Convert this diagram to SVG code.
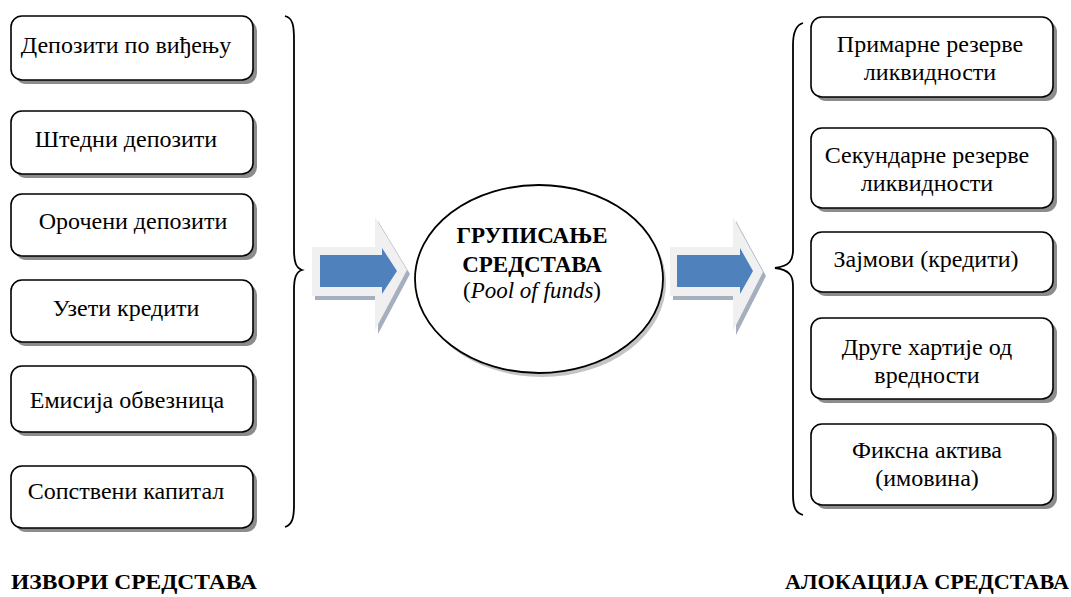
<svg xmlns="http://www.w3.org/2000/svg" width="1071" height="597" viewBox="0 0 1071 597">
  <style>
    .box { fill: #ffffff; stroke: #000000; stroke-width: 1.6; }
    .shd { fill: #8c8c8c; }
    .brace { fill: none; stroke: #000000; stroke-width: 1.8; }
    .outer { fill: #f0f0f0; }
    .outer-shd { fill: #a5afbf; }
    .inner { fill: #4f81bd; }
    text { font-family: "Liberation Serif", Times, "DejaVu Serif", serif; }
  </style>
  <rect width="1071" height="597" fill="#ffffff"/>

  <!-- sources -->
  <g font-size="24" text-anchor="middle" fill="#000000">
    <g id="src1"><rect class="shd" x="15" y="20" width="242" height="64" rx="11"/><rect class="box" x="11" y="16" width="242" height="64" rx="11"/><text x="126" y="53">Депозити по виђењу</text></g>
    <g id="src2"><rect class="shd" x="15" y="115" width="242" height="63" rx="11"/><rect class="box" x="11" y="111" width="242" height="63" rx="11"/><text x="126" y="147">Штедни депозити</text></g>
    <g id="src3"><rect class="shd" x="15" y="198" width="242" height="62" rx="11"/><rect class="box" x="11" y="194" width="242" height="62" rx="11"/><text x="133" y="229">Орочени депозити</text></g>
    <g id="src4"><rect class="shd" x="15" y="284" width="242" height="62" rx="11"/><rect class="box" x="11" y="280" width="242" height="62" rx="11"/><text x="126" y="316">Узети кредити</text></g>
    <g id="src5"><rect class="shd" x="15" y="370" width="242" height="66" rx="11"/><rect class="box" x="11" y="366" width="242" height="66" rx="11"/><text x="127" y="408">Емисија обвезница</text></g>
    <g id="src6"><rect class="shd" x="15" y="470" width="242" height="62" rx="11"/><rect class="box" x="11" y="466" width="242" height="62" rx="11"/><text x="126" y="499">Сопствени капитал</text></g>

    <!-- uses -->
    <g id="use1"><rect class="shd" x="815" y="21" width="242" height="80" rx="11"/><rect class="box" x="811" y="17" width="242" height="80" rx="11"/><text x="930" y="52">Примарне резерве</text><text x="930" y="80">ликвидности</text></g>
    <g id="use2"><rect class="shd" x="815" y="132" width="242" height="80" rx="11"/><rect class="box" x="811" y="128" width="242" height="80" rx="11"/><text x="927" y="163">Секундарне резерве</text><text x="927" y="191">ликвидности</text></g>
    <g id="use3"><rect class="shd" x="815" y="236" width="242" height="60" rx="11"/><rect class="box" x="811" y="232" width="242" height="60" rx="11"/><text x="926" y="267">Зајмови (кредити)</text></g>
    <g id="use4"><rect class="shd" x="815" y="322" width="242" height="81" rx="11"/><rect class="box" x="811" y="318" width="242" height="81" rx="11"/><text x="927" y="355">Друге хартије од</text><text x="927" y="383">вредности</text></g>
    <g id="use5"><rect class="shd" x="815" y="428" width="242" height="81" rx="11"/><rect class="box" x="811" y="424" width="242" height="81" rx="11"/><text x="927" y="458">Фиксна актива</text><text x="927" y="486">(имовина)</text></g>

    <!-- pool -->
    <g id="pool">
      <ellipse cx="542" cy="283" rx="124" ry="94" fill="#c4c4c4"/>
      <ellipse cx="539" cy="279" rx="124" ry="94" fill="#ffffff" stroke="#000000" stroke-width="1.8"/>
      <text x="532" y="243" font-size="23" font-weight="bold">ГРУПИСАЊЕ</text>
      <text x="532" y="272" font-size="23" font-weight="bold">СРЕДСТАВА</text>
      <text x="532" y="298" font-size="23">(<tspan font-style="italic">Pool of funds</tspan>)</text>
    </g>
  </g>

  <!-- connectors: braces and block arrows -->
  <g id="connectors">
    <path class="brace" d="M285,16 C293,18 294,26 294,40 L294,250 C294,262 296,268 302,270 C296,272 294,278 294,290 L294,505 C294,518 292,525 285,527"/>
    <path class="brace" d="M803,23 C796,25 793,32 793,45 L793,250 C793,260 790,266 775,268 C790,270 793,276 793,286 L793,495 C793,508 796,513 803,515"/>

    <g id="arrowL">
      <polygon class="outer-shd" points="315,251 378,251 378,221 410,274 378,334 378,300 315,300"/>
      <polygon class="outer" points="312,247 375,247 375,217 407,270 375,330 375,296 312,296"/>
      <polygon class="inner" points="320,255 382,255 382,248 397,271 382,294 382,287 320,287"/>
    </g>
    <g id="arrowR">
      <polygon class="outer-shd" points="673,251 736,251 736,221 766,276 736,335 736,300 673,300"/>
      <polygon class="outer" points="670,247 733,247 733,217 763,272 733,331 733,296 670,296"/>
      <polygon class="inner" points="677,255 740,255 740,248 753,271 740,294 740,287 677,287"/>
    </g>
  </g>

  <g font-size="22" font-weight="bold" fill="#000000">
    <text x="11" y="589" textLength="246" lengthAdjust="spacingAndGlyphs">ИЗВОРИ СРЕДСТАВА</text>
    <text x="785" y="589" textLength="284" lengthAdjust="spacingAndGlyphs">АЛОКАЦИЈА СРЕДСТАВА</text>
  </g>
</svg>
